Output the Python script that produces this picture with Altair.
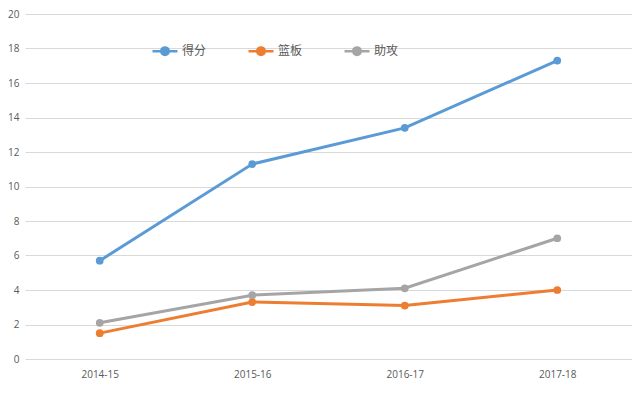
import altair as alt
import pandas as pd

seasons = ["2014-15", "2015-16", "2016-17", "2017-18"]
series_names = ["得分", "篮板", "助攻"]
points = [5.7, 11.3, 13.4, 17.3]
rebounds = [1.5, 3.3, 3.1, 4.0]
assists = [2.1, 3.7, 4.1, 7.0]
colors = ["#5B9BD5", "#ED7D31", "#A5A5A5"]

rows = []
for name, vals in zip(series_names, [points, rebounds, assists]):
    for s, v in zip(seasons, vals):
        rows.append({"赛季": s, "项目": name, "数值": v})
df = pd.DataFrame(rows)

sym = "M-1,0L1,0M0.3,0A0.3,0.3,0,1,1,-0.3,0A0.3,0.3,0,1,1,0.3,0Z"

color = alt.Color(
    "项目:N",
    sort=series_names,
    scale=alt.Scale(domain=series_names, range=colors),
    legend=alt.Legend(
        title=None,
        orient="none",
        legendX=126,
        legendY=23,
        direction="horizontal",
        symbolType=sym,
        symbolSize=625,
        symbolStrokeWidth=2.5,
        labelOffset=3,
        columnPadding=36,
        labelFont="Noto Sans CJK SC",
        labelFontSize=12,
        labelColor="#595959",
    ),
)

x = alt.X(
    "赛季:N",
    sort=seasons,
    scale=alt.Scale(type="point", padding=0.49),
    axis=alt.Axis(
        title=None, labelAngle=0, ticks=False, domain=False, grid=False,
        labelPadding=10, labelFontSize=10, labelColor="#595959",
        labelFont="Open Sans",
    ),
)
y = alt.Y(
    "数值:Q",
    scale=alt.Scale(domain=[0, 20], nice=False),
    axis=alt.Axis(
        title=None, values=list(range(0, 21, 2)), ticks=False, domain=False,
        gridColor="#D9D9D9", gridWidth=1, labelPadding=6, labelFontSize=10,
        labelColor="#595959", labelFont="Open Sans",
    ),
)

base = alt.Chart(df).encode(x=x, y=y, color=color)
lines = base.mark_line(strokeWidth=3)
dots = base.mark_point(filled=True, size=60, opacity=1)

chart = (
    alt.layer(lines, dots)
    .properties(
        width=607,
        height=345,
        autosize=alt.AutoSizeParams(type="none"),
        padding={"left": 17, "top": 6, "right": 0, "bottom": 30},
        background="white",
    )
    .configure_view(stroke=None)
)

chart.save("out.html", embed_options={"renderer": "svg", "actions": False})
